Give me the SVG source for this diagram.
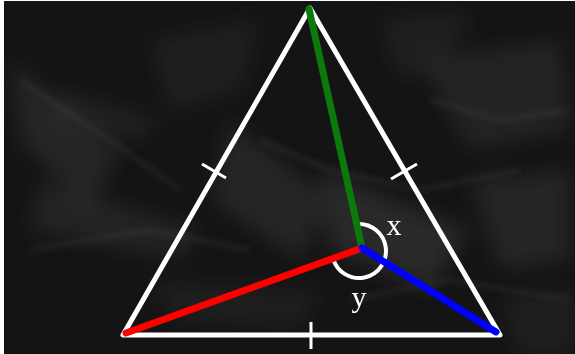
<svg xmlns="http://www.w3.org/2000/svg" width="575" height="354" viewBox="0 0 575 354">
<defs>
<filter id="blur" x="-20%" y="-20%" width="140%" height="140%"><feGaussianBlur stdDeviation="10"/></filter>
<filter id="blur2" x="-10%" y="-10%" width="120%" height="120%"><feGaussianBlur stdDeviation="3"/></filter>
<style>
.side{fill:none;stroke:#ffffff;stroke-width:5;stroke-linejoin:round;stroke-linecap:round}
.tick{stroke:#ffffff;stroke-width:3;stroke-linecap:butt}
.seg{stroke-width:7;stroke-linecap:round;fill:none}
.arc{fill:none;stroke:#ffffff;stroke-width:4}
.lbl{font-family:"Liberation Serif","DejaVu Serif",serif;font-size:30px;fill:#ffffff;text-anchor:middle}
.facet{fill:#5a5a5a}
.streak{fill:none;stroke:#777777;stroke-width:3}
</style>
</defs>
<rect x="0" y="0" width="575" height="354" fill="#ffffff"/>
<g id="background">
<rect x="4" y="1" width="571" height="353" fill="#141414"/>
<g filter="url(#blur)" opacity="0.5">
<polygon class="facet" points="10,60 120,150 90,210 20,140" opacity="0.5"/>
<polygon class="facet" points="40,180 200,230 180,260 30,230" opacity="0.45"/>
<polygon class="facet" points="150,40 260,20 240,90 170,110" opacity="0.35"/>
<polygon class="facet" points="230,120 330,200 300,260 210,200" opacity="0.5"/>
<polygon class="facet" points="320,170 470,230 430,290 330,250" opacity="0.6"/>
<polygon class="facet" points="420,60 560,40 570,130 470,150" opacity="0.45"/>
<polygon class="facet" points="470,180 570,170 570,260 500,270" opacity="0.5"/>
<polygon class="facet" points="380,20 470,10 450,60 400,80" opacity="0.35"/>
<polygon class="facet" points="150,280 320,290 300,330 170,320" opacity="0.3"/>
<polygon class="facet" points="500,300 575,290 575,354 520,354" opacity="0.35"/>
<polygon class="facet" points="60,90 160,120 140,140 50,120" opacity="0.4"/>
</g>
<g filter="url(#blur2)" opacity="0.25">
<polyline class="streak" points="20,80 110,140 180,190"/>
<polyline class="streak" points="260,140 330,170 420,190 520,170"/>
<polyline class="streak" points="30,250 150,230 250,250"/>
<polyline class="streak" points="430,100 500,120 570,110"/>
<polyline class="streak" points="350,300 450,280 570,300"/>
</g>
</g>
<g id="triangle">
<polygon class="side" points="310,8 123,335 500,335"/>
</g>
<g id="ticks">
<line class="tick" x1="202" y1="164" x2="226" y2="178"/>
<line class="tick" x1="391" y1="179" x2="417" y2="164"/>
<line class="tick" x1="311" y1="322" x2="311" y2="349"/>
</g>
<g id="angle-arc">
<path class="arc" d="M357.1,224.1 A27,27 0 1 1 333,258.4"/>
</g>
<g id="connectors">
<line class="seg" x1="309" y1="9" x2="362" y2="248" stroke="#0a7a0a"/>
<line class="seg" x1="126" y1="333" x2="362" y2="248" stroke="#ff0000"/>
<line class="seg" x1="362" y1="248" x2="496" y2="332" stroke="#0000ff"/>
</g>
<g id="labels">
<text class="lbl" x="394" y="235">x</text>
<text class="lbl" x="359" y="307">y</text>
</g>
</svg>
